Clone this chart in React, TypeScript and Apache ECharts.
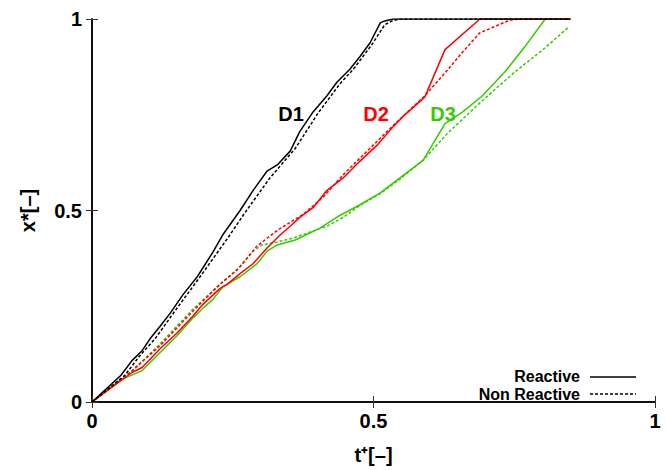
import React, { useEffect, useRef } from "react";
import * as echarts from "echarts";

const xTicks = [0, 0.5, 1];
const yTicks = [0, 0.5, 1];
const legendNames = ["Reactive", "Non Reactive"];

const d1Reactive: [number, number][] = [
  [0, 0], [0.0515, 0.07], [0.071, 0.108], [0.089, 0.134], [0.103, 0.165], [0.121, 0.198],
  [0.139, 0.232], [0.162, 0.281], [0.187, 0.327], [0.215, 0.392], [0.233, 0.438], [0.263, 0.5],
  [0.286, 0.552], [0.311, 0.603], [0.329, 0.619], [0.352, 0.655], [0.369, 0.706], [0.393, 0.758],
  [0.417, 0.799], [0.435, 0.835], [0.458, 0.869], [0.476, 0.902], [0.494, 0.938], [0.512, 0.99],
  [0.52, 0.995], [0.535, 1.0], [0.85, 1.0],
];
const d1NonReactive: [number, number][] = [
  [0, 0], [0.0586, 0.07], [0.085, 0.121], [0.112, 0.165], [0.147, 0.237], [0.192, 0.327],
  [0.242, 0.43], [0.272, 0.495], [0.316, 0.585], [0.361, 0.662], [0.401, 0.753], [0.44, 0.83],
  [0.467, 0.874], [0.497, 0.933], [0.52, 0.985], [0.533, 0.995], [0.547, 1.0], [0.85, 1.0],
];
const d2Reactive: [number, number][] = [
  [0, 0], [0.071, 0.077], [0.089, 0.09], [0.121, 0.139], [0.151, 0.18], [0.179, 0.224],
  [0.197, 0.255], [0.227, 0.296], [0.24, 0.307], [0.263, 0.335], [0.286, 0.361], [0.311, 0.402],
  [0.334, 0.436], [0.352, 0.459], [0.369, 0.482], [0.393, 0.508], [0.417, 0.552], [0.446, 0.585],
  [0.476, 0.629], [0.506, 0.67], [0.535, 0.719], [0.552, 0.745], [0.591, 0.796], [0.627, 0.92],
  [0.689, 1.0], [0.849, 1.0],
];
const d2NonReactive: [number, number][] = [
  [0, 0], [0.0675, 0.077], [0.121, 0.147], [0.179, 0.237], [0.227, 0.307], [0.258, 0.345],
  [0.293, 0.407], [0.329, 0.448], [0.375, 0.49], [0.41, 0.534], [0.446, 0.593], [0.476, 0.637],
  [0.506, 0.68], [0.535, 0.722], [0.591, 0.799], [0.631, 0.866], [0.659, 0.915], [0.689, 0.964],
  [0.742, 0.997], [0.76, 1.0], [0.849, 1.0],
];
const d3Reactive: [number, number][] = [
  [0, 0], [0.05, 0.057], [0.089, 0.082], [0.121, 0.129], [0.151, 0.173], [0.179, 0.219],
  [0.197, 0.245], [0.215, 0.268], [0.233, 0.302], [0.263, 0.327], [0.293, 0.361], [0.311, 0.394],
  [0.329, 0.41], [0.361, 0.423], [0.405, 0.454], [0.44, 0.487], [0.476, 0.515], [0.512, 0.546],
  [0.547, 0.585], [0.588, 0.631], [0.627, 0.727], [0.659, 0.758], [0.693, 0.799], [0.734, 0.863],
  [0.769, 0.928], [0.805, 1.0], [0.849, 1.0],
];
const d3NonReactive: [number, number][] = [
  [0, 0], [0.0675, 0.075], [0.121, 0.152], [0.179, 0.242], [0.227, 0.307], [0.263, 0.353],
  [0.286, 0.394], [0.302, 0.41], [0.329, 0.418], [0.357, 0.428], [0.417, 0.459], [0.446, 0.482],
  [0.476, 0.513], [0.512, 0.544], [0.547, 0.582], [0.588, 0.631], [0.631, 0.701], [0.689, 0.781],
  [0.748, 0.858], [0.805, 0.925], [0.845, 0.977],
];

const BLACK = "#000000";
const RED = "#ff0000";
const GREEN = "#33cc00";
const FONT = "Liberation Sans, Arial, sans-serif";
const DASH = [3, 2];

export default function App() {
  const ref = useRef<HTMLDivElement>(null);
  useEffect(() => {
    if (!ref.current) return;
    const chart = echarts.init(ref.current, undefined, { renderer: "svg" });
    const line = (name: string, data: [number, number][], color: string, dashed: boolean, z = 2) => ({
      type: "line",
      name,
      data,
      symbol: "none",
      z,
      lineStyle: { color, width: 1.5, type: dashed ? DASH : "solid" },
      itemStyle: { color },
    });
    const axisCommon = {
      type: "value",
      min: 0,
      max: 1,
      interval: 0.5,
      splitLine: { show: false },
      axisLine: { show: true, lineStyle: { color: BLACK, width: 1.5 } },
      axisTick: { show: true, inside: true, length: 6, lineStyle: { color: "#333", width: 1 } },
    };
    const labelStyle = { fontSize: 20, fontWeight: "bold", color: BLACK, fontFamily: FONT };
    chart.setOption({
      animation: false,
      backgroundColor: "#ffffff",
      grid: { left: 92, right: 12, top: 19, bottom: 63 },
      textStyle: { fontFamily: FONT },
      xAxis: [
        {
          ...axisCommon,
          position: "bottom",
          name: "t\u207A[\u2013]",
          nameLocation: "middle",
          nameGap: 43,
          nameTextStyle: labelStyle,
          axisLabel: {
            ...labelStyle, margin: 9,
            formatter: (v: number) => (xTicks.includes(v) ? String(v) : ""),
          },
        },
        { ...axisCommon, position: "top", axisLabel: { show: false } },
      ],
      yAxis: [
        {
          ...axisCommon,
          position: "left",
          name: "x*[\u2013]",
          nameLocation: "middle",
          nameGap: 54,
          nameTextStyle: labelStyle,
          axisLabel: {
            ...labelStyle, margin: 10,
            formatter: (v: number) => (yTicks.includes(v) ? String(v) : ""),
          },
        },
        { ...axisCommon, position: "right", axisLabel: { show: false } },
      ],
      series: [
        line("D3 Reactive", d3Reactive, GREEN, false, 2),
        line("D3 Non Reactive", d3NonReactive, GREEN, true, 2),
        line("D2 Reactive", d2Reactive, RED, false, 3),
        line("D2 Non Reactive", d2NonReactive, RED, true, 3),
        line("D1 Reactive", d1Reactive, BLACK, false, 4),
        line("D1 Non Reactive", d1NonReactive, BLACK, true, 4),
      ],
      graphic: [
        { type: "text", x: 291, y: 114, style: { text: "D1", fill: BLACK, font: `bold 20px ${FONT}`, textAlign: "center", textVerticalAlign: "middle" } },
        { type: "text", x: 376, y: 114, style: { text: "D2", fill: RED, font: `bold 20px ${FONT}`, textAlign: "center", textVerticalAlign: "middle" } },
        { type: "text", x: 443, y: 114, style: { text: "D3", fill: GREEN, font: `bold 20px ${FONT}`, textAlign: "center", textVerticalAlign: "middle" } },
        { type: "text", x: 580, y: 376, style: { text: legendNames[0], fill: BLACK, font: `bold 16px ${FONT}`, textAlign: "right", textVerticalAlign: "middle" } },
        { type: "line", shape: { x1: 590, y1: 377, x2: 636, y2: 377 }, style: { stroke: BLACK, lineWidth: 1.5 } },
        { type: "text", x: 580, y: 394, style: { text: legendNames[1], fill: BLACK, font: `bold 16px ${FONT}`, textAlign: "right", textVerticalAlign: "middle" } },
        { type: "line", shape: { x1: 590, y1: 394, x2: 636, y2: 394 }, style: { stroke: BLACK, lineWidth: 1.5, lineDash: DASH } },
      ],
    });
    return () => chart.dispose();
  }, []);
  return <div ref={ref} style={{ position: "absolute", left: 0, top: 0, width: 667, height: 470 }} />;
}
